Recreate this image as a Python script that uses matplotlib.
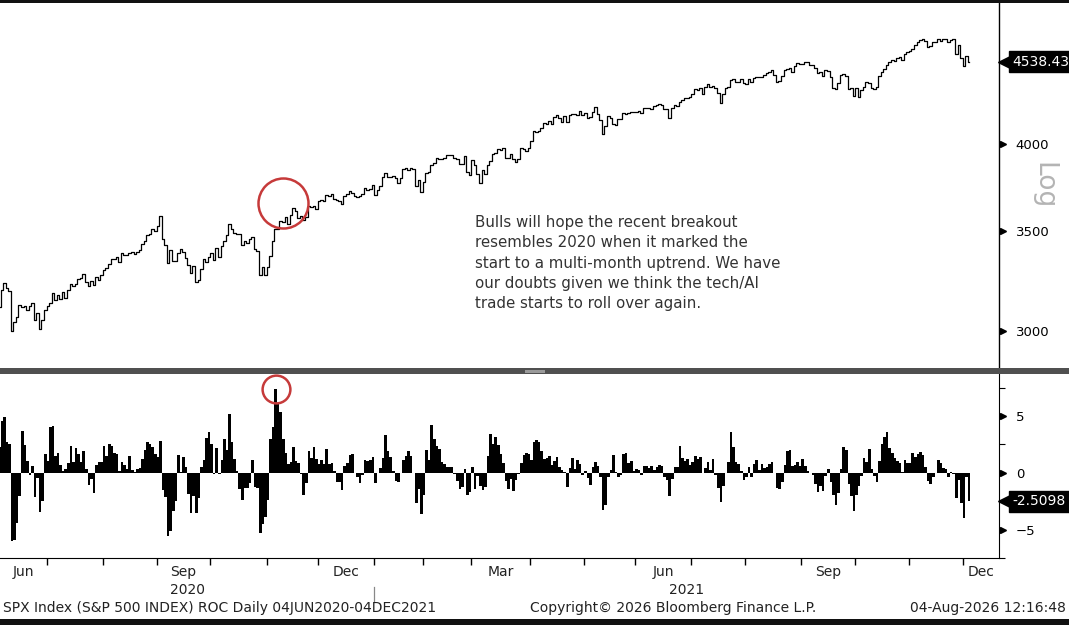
import matplotlib
matplotlib.use('Agg')
import matplotlib.pyplot as plt
import numpy as np
import pandas as pd
from matplotlib.patches import Rectangle
from matplotlib.transforms import blended_transform_factory

plt.rcParams['font.family'] = ['DejaVu Sans']

# exchange holidays inside the window (trading-day axis like the terminal)
holidays = ['2020-07-03', '2020-09-07', '2020-11-26', '2020-12-25',
            '2021-01-01', '2021-01-18', '2021-02-15', '2021-04-02',
            '2021-05-31', '2021-07-05', '2021-09-06', '2021-11-25']

# SPX daily closes, 29 May 2020 (lookback) to 03 Dec 2021
close_may20 = [3044.31]
close_jun20 = [3055.73, 3080.82, 3122.87, 3112.35, 3193.93, 3232.39, 3207.18, 3190.14, 3002.10, 3041.31, 3066.59,
               3124.74, 3113.49, 3115.34, 3097.74, 3117.86, 3131.29, 3050.33, 3083.76, 3009.05, 3053.24, 3100.29]
close_jul20 = [3115.86, 3130.01, 3179.72, 3145.32, 3169.94, 3152.05, 3185.04, 3155.22, 3197.52, 3226.56, 3215.57,
               3224.73, 3251.84, 3257.30, 3276.02, 3235.66, 3215.63, 3239.41, 3218.44, 3258.44, 3246.22, 3271.12]
close_aug20 = [3294.61, 3306.51, 3327.77, 3349.16, 3351.28, 3360.47, 3333.69, 3380.35, 3373.43, 3372.85, 3381.99,
               3389.78, 3374.85, 3385.51, 3397.16, 3431.28, 3443.62, 3478.73, 3484.55, 3508.01, 3500.31]
close_sep20 = [3526.65, 3580.84, 3455.06, 3426.96, 3331.84, 3398.96, 3339.19, 3340.97, 3383.54, 3401.20, 3385.49,
               3357.01, 3319.47, 3281.06, 3315.57, 3236.92, 3246.59, 3298.46, 3351.60, 3335.47, 3363.00]
close_oct20 = [3380.80, 3348.42, 3408.60, 3360.97, 3419.44, 3446.83, 3477.14, 3534.22, 3511.93, 3488.67, 3483.34,
               3483.81, 3426.92, 3443.12, 3435.56, 3453.49, 3465.39, 3400.97, 3390.68, 3271.03, 3310.11, 3269.96]
close_nov20 = [3310.24, 3369.16, 3443.44, 3510.45, 3509.44, 3550.50, 3545.53, 3572.66, 3537.01, 3585.15, 3626.91,
               3609.53, 3567.79, 3581.87, 3557.54, 3577.59, 3635.41, 3629.65, 3638.35, 3621.63]
close_dec20 = [3662.45, 3669.01, 3666.72, 3699.12, 3691.96, 3702.25, 3672.82, 3668.10, 3663.46, 3647.49, 3694.62,
               3701.17, 3722.48, 3709.41, 3694.92, 3687.26, 3690.01, 3703.06, 3735.36, 3727.04, 3732.04, 3756.07]
close_jan21 = [3700.65, 3726.86, 3748.14, 3803.79, 3824.68, 3799.61, 3801.19, 3809.84, 3795.54, 3768.25, 3798.91,
               3851.85, 3853.07, 3841.47, 3855.36, 3849.62, 3750.77, 3787.38, 3714.24]
close_feb21 = [3773.86, 3826.31, 3830.17, 3871.74, 3886.83, 3915.59, 3911.23, 3909.88, 3916.38, 3934.83, 3932.59,
               3931.33, 3913.97, 3906.71, 3876.50, 3881.37, 3925.43, 3829.34, 3811.15]
close_mar21 = [3901.82, 3870.29, 3819.72, 3768.47, 3841.94, 3821.35, 3875.44, 3898.81, 3939.34, 3943.34, 3968.94,
               3962.71, 3974.12, 3915.46, 3913.10, 3940.59, 3910.52, 3889.14, 3909.52, 3974.54, 3971.09, 3958.55,
               3972.89]
close_apr21 = [4019.87, 4077.91, 4073.94, 4079.95, 4097.17, 4128.80, 4127.99, 4141.59, 4124.66, 4170.42, 4185.47,
               4163.26, 4134.94, 4173.42, 4134.98, 4180.17, 4187.62, 4186.72, 4183.18, 4211.47, 4181.17]
close_may21 = [4192.66, 4164.66, 4167.59, 4201.62, 4232.60, 4188.43, 4152.10, 4063.04, 4112.50, 4173.85, 4163.29,
               4127.83, 4115.68, 4159.12, 4155.86, 4197.05, 4188.13, 4195.99, 4200.88, 4204.11]
close_jun21 = [4202.04, 4208.12, 4192.85, 4229.89, 4226.52, 4227.26, 4219.55, 4239.18, 4247.44, 4255.15, 4246.59,
               4223.70, 4221.86, 4166.45, 4224.79, 4246.44, 4241.84, 4266.49, 4280.70, 4290.61, 4291.80, 4297.50]
close_jul21 = [4319.94, 4352.34, 4343.54, 4358.13, 4320.82, 4369.55, 4384.63, 4369.21, 4374.30, 4360.03, 4327.16,
               4258.49, 4323.06, 4358.69, 4367.48, 4411.79, 4422.30, 4401.46, 4400.64, 4419.15, 4395.26]
close_aug21 = [4387.16, 4423.15, 4402.66, 4429.10, 4436.52, 4432.35, 4436.75, 4447.70, 4460.83, 4468.00, 4479.71,
               4448.08, 4400.27, 4405.80, 4441.67, 4479.53, 4486.23, 4496.19, 4470.00, 4509.37, 4528.79, 4522.68]
close_sep21 = [4524.09, 4536.95, 4535.43, 4520.03, 4514.07, 4493.28, 4458.58, 4468.73, 4443.05, 4480.70, 4473.75,
               4432.99, 4357.73, 4354.19, 4395.64, 4448.98, 4455.48, 4443.11, 4352.63, 4359.46, 4307.54]
close_oct21 = [4357.04, 4300.46, 4345.72, 4363.55, 4399.76, 4391.34, 4361.19, 4350.65, 4363.80, 4438.26, 4471.37,
               4486.46, 4519.63, 4536.19, 4549.78, 4544.90, 4566.48, 4574.79, 4551.68, 4596.42, 4605.38]
close_nov21 = [4613.67, 4630.65, 4660.57, 4680.06, 4697.53, 4701.70, 4685.25, 4646.71, 4649.27, 4682.85, 4682.80,
               4700.90, 4688.67, 4704.54, 4697.96, 4682.94, 4690.70, 4701.46, 4594.62, 4655.27, 4567.00]
close_dec21 = [4513.04, 4577.10, 4538.43]

roc_lag = 4
price_ticks = [3000, 3500, 4000]
roc_ticks = [-5, 0, 5]
note = ("Bulls will hope the recent breakout\n"
        "resembles 2020 when it marked the\n"
        "start to a multi-month uptrend. We have\n"
        "our doubts given we think the tech/AI\n"
        "trade starts to roll over again.")
footer_left = "SPX Index (S&P 500 INDEX) ROC Daily 04JUN2020-04DEC2021"
footer_mid = "Copyright\u00a9 2026 Bloomberg Finance L.P."
footer_right = "04-Aug-2026 12:16:48"

closes = np.array(close_may20 + close_jun20 + close_jul20 + close_aug20 + close_sep20 + close_oct20 +
                  close_nov20 + close_dec20 + close_jan21 + close_feb21 + close_mar21 + close_apr21 +
                  close_may21 + close_jun21 + close_jul21 + close_aug21 + close_sep21 + close_oct21 +
                  close_nov21 + close_dec21)
all_dates = pd.bdate_range('2020-05-29', '2021-12-03', freq='C', holidays=holidays)

dates = all_dates[roc_lag:]
price = closes[roc_lag:]
roc = (closes[roc_lag:] / closes[:-roc_lag] - 1) * 100
x = np.arange(len(dates))
xlim = (0.3, 390.7)

W, H = 1069, 625
fig = plt.figure(figsize=(W / 100, H / 100), dpi=100)
fig.patch.set_facecolor('white')

def fy(py):
    return 1 - py / H

ax1 = fig.add_axes([0, fy(368), 999 / W, fy(3) - fy(368)])
ax2 = fig.add_axes([0, fy(558), 999 / W, fy(374) - fy(558)])

# ---- price panel
ax1.plot(x, price, color='black', lw=0.9, drawstyle='steps-mid')
ax1.set_yscale('log')
ax1.set_ylim(2834, 4969)
ax1.set_xlim(*xlim)
ax1.yaxis.set_major_locator(matplotlib.ticker.FixedLocator(price_ticks))
ax1.yaxis.set_minor_locator(matplotlib.ticker.NullLocator())
ax1.yaxis.set_major_formatter(matplotlib.ticker.FormatStrFormatter('%d'))
ax1.yaxis.tick_right()
ax1.tick_params(axis='y', length=0, pad=12, labelsize=9.5)
ax1.set_xticks([])
for s in ['left', 'top', 'bottom']:
    ax1.spines[s].set_visible(False)
ax1.spines['right'].set_linewidth(1.0)

tr1 = blended_transform_factory(ax1.transAxes, ax1.transData)
ax1.plot([1.004] * len(price_ticks), price_ticks, ls='none', marker='>', ms=5, color='black',
         transform=tr1, clip_on=False)
ax1.plot([1.007], [price[-1]], marker='<', ms=12, color='black', transform=tr1, clip_on=False)
ax1.text(1.013, price[-1], f'{price[-1]:.2f}', transform=tr1, color='white', fontsize=10,
         va='center', ha='left', bbox=dict(boxstyle='square,pad=0.25', fc='black', ec='black'))
ax1.text(1.044, 0.5, 'Log', transform=ax1.transAxes, rotation=270, color='#b4b4b4',
         fontsize=19, ha='center', va='center')

# red circle on the Nov-2020 breakout
bo = dates.get_loc(pd.Timestamp('2020-11-10'))
ax1.plot([bo], [price[bo] * 1.03], marker='o', ms=36, mfc='none', mec='#c63a3a', mew=1.8)

ax1.text(475 / 999 * (xlim[1] - xlim[0]) + xlim[0], 3585, note, fontsize=10.8, color='#333333',
         va='top', ha='left', linespacing=1.43)

# ---- ROC panel
ax2.bar(x, roc, width=1.0, color='black', edgecolor='none')
ax2.set_xlim(*xlim)
ax2.set_ylim(-7.3, 8.7)
ax2.yaxis.tick_right()
ax2.set_yticks(roc_ticks)
ax2.set_yticks([-7.5, -2.5, 2.5, 7.5], minor=True)
ax2.tick_params(axis='y', which='major', length=0, pad=12, labelsize=9.5)
ax2.tick_params(axis='y', which='minor', length=4, width=0.8, direction='out')
for s in ['left', 'top']:
    ax2.spines[s].set_visible(False)

tr2 = blended_transform_factory(ax2.transAxes, ax2.transData)
ax2.plot([1.004] * len(roc_ticks), roc_ticks, ls='none', marker='>', ms=5, color='black',
         transform=tr2, clip_on=False)
ax2.plot([1.007], [roc[-1]], marker='<', ms=12, color='black', transform=tr2, clip_on=False)
ax2.text(1.013, roc[-1], f'{roc[-1]:.4f}', transform=tr2, color='white', fontsize=10,
         va='center', ha='left', bbox=dict(boxstyle='square,pad=0.25', fc='black', ec='black'))

pk = int(np.argmax(roc))
ax2.plot([pk], [roc[pk]], marker='o', ms=20, mfc='none', mec='#c63a3a', mew=1.8, clip_on=False)

# month ticks / labels
months = dates.to_period('M')
starts = [0] + [i for i in range(1, len(dates)) if months[i] != months[i - 1]]
bounds = [s - 0.5 for s in starts[1:]]
ax2.set_xticks(bounds)
ax2.set_xticklabels([])
ax2.tick_params(axis='x', length=5, width=1.0, direction='out')

trx = blended_transform_factory(ax2.transData, fig.transFigure)
seg_ends = starts[1:] + [None]
for s, e in zip(starts, seg_ends):
    lo = max(s - 0.5, xlim[0])
    hi = xlim[1] if e is None else e - 0.5
    if dates[s].month in (3, 6, 9, 12):
        ax2.text((lo + hi) / 2, fy(572), dates[s].strftime('%b'), transform=trx, fontsize=10,
                 ha='center', va='center', color='#222222')

years = sorted(set(dates.year))
for yr in years:
    ii = np.where(dates.year == yr)[0]
    lo = max(ii[0] - 0.5, xlim[0])
    hi = xlim[1] if yr == years[-1] else ii[-1] + 0.5
    ax2.text((lo + hi) / 2, fy(590), str(yr), transform=trx, fontsize=10,
             ha='center', va='center', color='#222222')
    if ii[0] > 0:
        ax2.plot([ii[0] - 0.5] * 2, [fy(587), fy(602)], color='#888888', lw=0.9,
                 transform=trx, clip_on=False)

# panel splitter and frame bands
fig.add_artist(Rectangle((0, fy(374)), 1, fy(368) - fy(374), transform=fig.transFigure,
                         fc='#505050', ec='none', zorder=5))
fig.add_artist(Rectangle((525 / W, fy(372.5)), 20 / W, fy(369.5) - fy(372.5), transform=fig.transFigure,
                         fc='#9a9a9a', ec='none', zorder=6))
fig.add_artist(Rectangle((0, fy(3)), 1, fy(0) - fy(3), transform=fig.transFigure,
                         fc='#111111', ec='none', zorder=5))
fig.add_artist(Rectangle((0, 0), 1, fy(619), transform=fig.transFigure,
                         fc='#111111', ec='none', zorder=5))

fig.text(3 / W, fy(608), footer_left, fontsize=10, ha='left', va='center', color='#222222')
fig.text(530 / W, fy(608), footer_mid, fontsize=10, ha='left', va='center', color='#222222')
fig.text(1066 / W, fy(608), footer_right, fontsize=10, ha='right', va='center', color='#222222')

fig.savefig('out.png', dpi=100)
